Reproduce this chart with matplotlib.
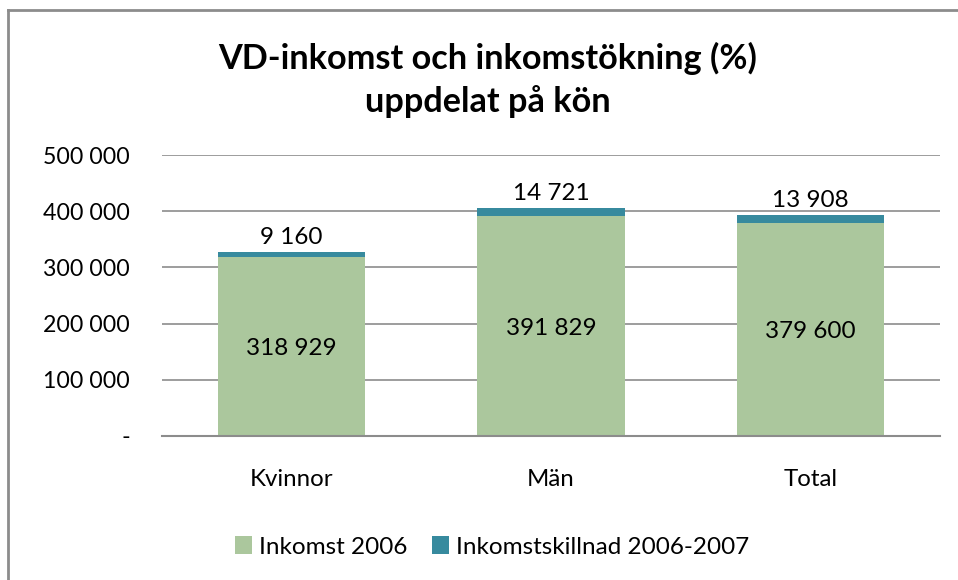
import matplotlib
matplotlib.use("Agg")
import matplotlib.pyplot as plt
from matplotlib.lines import Line2D
from matplotlib.patches import Patch

categories = ["Kvinnor", "Män", "Total"]
inkomst_2006 = [318929, 391829, 379600]
skillnad = [9160, 14721, 13908]
yticks = [0, 100000, 200000, 300000, 400000, 500000]
ytick_labels = ["-", "100 000", "200 000", "300 000", "400 000", "500 000"]
title = "VD-inkomst och inkomstökning (%)\nuppdelat på kön"
legend_labels = ["Inkomst 2006", "Inkomstskillnad 2006-2007"]

GREEN = "#abc79d"
TEAL = "#378a9e"
FONT = ["Lato", "DejaVu Sans"]
plt.rcParams["font.family"] = FONT

W, H = 958, 580
fig = plt.figure(figsize=(W / 100, H / 100), dpi=100)
fig.patch.set_facecolor("white")

# axes: x 162..940, y 155..436 (pixels)
ax = fig.add_axes([162 / W, 1 - 436 / H, (940 - 162) / W, (436 - 155) / H])

def fmt(v):
    return f"{v:,}".replace(",", " ")

x = list(range(len(categories)))
bw = 148 / 260
ax.bar(x, inkomst_2006, width=bw, color=GREEN, zorder=3)
ax.bar(x, skillnad, bottom=inkomst_2006, width=bw, color=TEAL, zorder=3)

for i in x:
    ax.text(i, inkomst_2006[i] / 2 - 4000, fmt(inkomst_2006[i]), ha="center", va="center",
            fontsize=17.5, color="black", zorder=4)
    top = inkomst_2006[i] + skillnad[i]
    ax.annotate(fmt(skillnad[i]), (i, top), xytext=(0, 10), textcoords="offset points",
                ha="center", va="center", fontsize=17.5, color="black", zorder=4)

ax.set_xlim(-0.5, 2.5)
ax.set_ylim(0, 500000)
ax.set_yticks(yticks)
ax.set_yticklabels(ytick_labels)
ax.set_xticks(x)
ax.set_xticklabels(categories)
ax.tick_params(axis="y", length=0, pad=23, labelsize=16.7)
ax.tick_params(axis="x", length=0, pad=24, labelsize=17.3)
ax.yaxis.grid(True, color="#8c8c8c", linewidth=1.2, zorder=0)
ax.set_axisbelow(True)
for s in ["top", "right", "left"]:
    ax.spines[s].set_visible(False)
ax.spines["bottom"].set_color("#8c8c8c")
ax.spines["bottom"].set_linewidth(1.5)
ax.spines["bottom"].set_zorder(5)

fig.text(488 / W, 1 - 80 / H, title, ha="center", va="center", fontsize=24.7,
         fontweight="bold", linespacing=1.35)

handles = [Patch(facecolor=GREEN), Patch(facecolor=TEAL)]
fig.legend(handles, legend_labels, loc="center", bbox_to_anchor=(492 / W, 1 - 547 / H),
           ncol=2, frameon=False, fontsize=17.5, handlelength=0.7, handleheight=0.7,
           handletextpad=0.3, columnspacing=1.0)

# chart border (top and left visible)
fig.add_artist(Line2D([8 / W, 8 / W], [0, 1 - 10 / H], color="#8c8c8c", linewidth=2,
                      transform=fig.transFigure))
fig.add_artist(Line2D([8 / W, 1], [1 - 10 / H, 1 - 10 / H], color="#8c8c8c", linewidth=2,
                      transform=fig.transFigure))

fig.savefig("out.png", dpi=100)
